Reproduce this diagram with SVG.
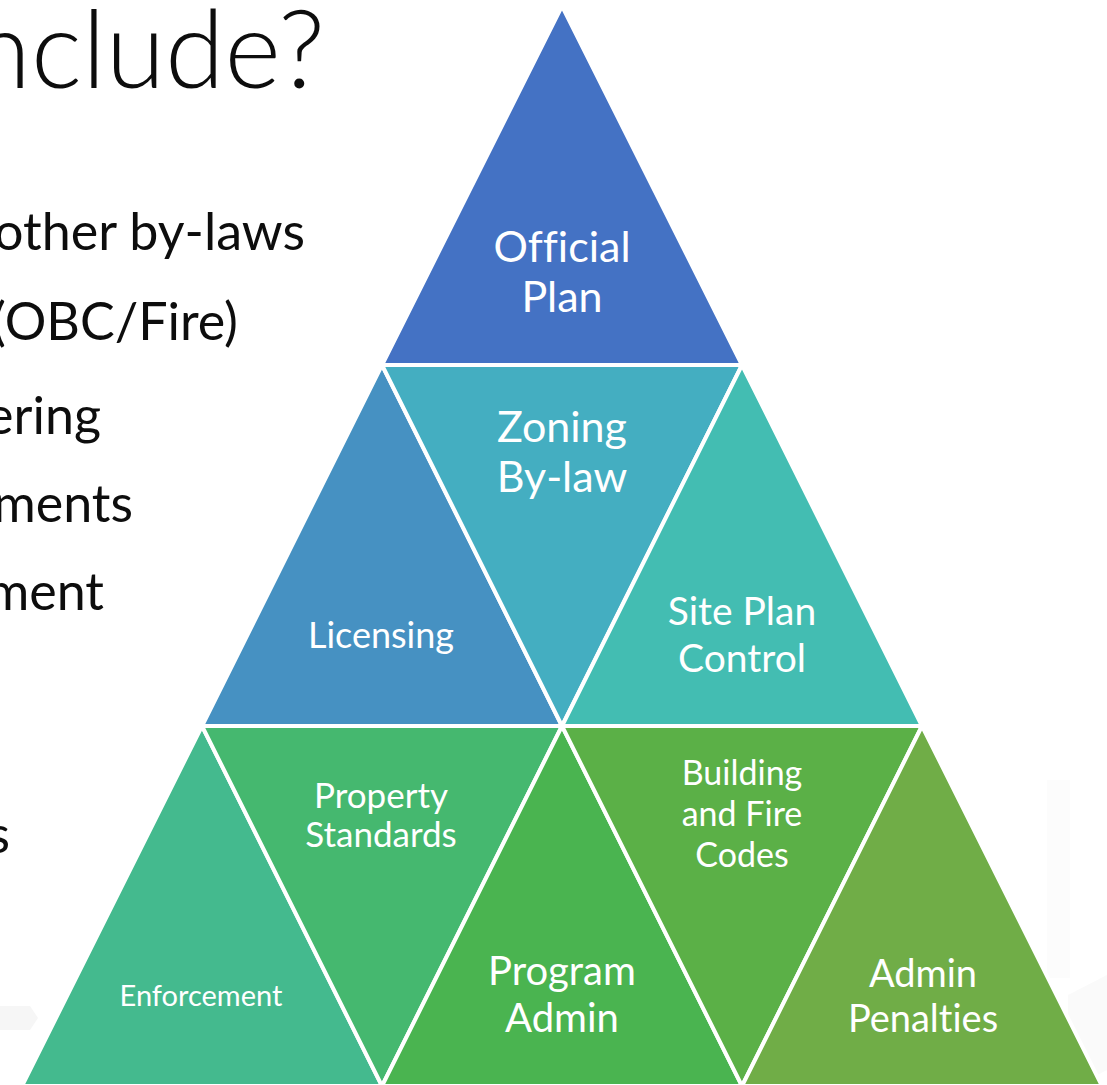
<svg xmlns="http://www.w3.org/2000/svg" width="1107" height="1085" viewBox="0 0 1107 1085">
  <style>
    text { font-variant-ligatures: none; }
    .tri { stroke: #ffffff; stroke-width: 4; stroke-linejoin: miter; }
    .lbl { fill: #ffffff; font-family: Lato, "Open Sans", "Liberation Sans", sans-serif; text-anchor: middle; }
    .body { fill: #0d0d0d; font-family: Lato, "Open Sans", "Liberation Sans", sans-serif; text-anchor: end; font-size: 52px; }
    .title { fill: #0d0d0d; font-family: Lato, "Open Sans", "Liberation Sans", sans-serif; font-weight: 300; text-anchor: end; font-size: 108px; }
  </style>
  <rect width="1107" height="1085" fill="#ffffff"/>

  <!-- faint background motif -->
  <g id="backdrop">
    <polygon points="0,1006 30,1006 38,1018 30,1030 0,1030" fill="#f6f6f6"/>
    <polygon points="1047,780 1070,780 1070,978 1047,978" fill="#fcfcfc"/>
    <polygon points="1068,995 1107,975 1107,1070 1078,1085 1068,1085" fill="#fafafa"/>
  </g>

  <!-- slide text, partly off the left edge -->
  <g id="slide-text">
    <text class="title" x="325" y="88">nclude?</text>
    <text class="body" x="305" y="250">other by-laws</text>
    <text class="body" x="238" y="340">(OBC/Fire)</text>
    <text class="body" x="101" y="434">ering</text>
    <text class="body" x="133" y="522">ments</text>
    <text class="body" x="104" y="610">ment</text>
    <text class="body" x="10" y="853">s</text>
  </g>

  <g id="connectors"/>

  <!-- row 1 -->
  <g id="official-plan">
    <polygon class="tri" fill="#4472C4" points="562,6 742,365 382,365"/>
    <text class="lbl" x="562" y="262" font-size="43">Official</text>
    <text class="lbl" x="562" y="312" font-size="43">Plan</text>
  </g>

  <!-- row 2 -->
  <g id="licensing">
    <polygon class="tri" fill="#4691C2" points="382,365 562,726 202,726"/>
    <text class="lbl" x="381" y="648" font-size="36">Licensing</text>
  </g>
  <g id="zoning-bylaw">
    <polygon class="tri" fill="#44AEC1" points="382,365 742,365 562,726"/>
    <text class="lbl" x="562" y="442" font-size="43">Zoning</text>
    <text class="lbl" x="562" y="492" font-size="43">By-law</text>
  </g>
  <g id="site-plan-control">
    <polygon class="tri" fill="#43BDB2" points="742,365 922,726 562,726"/>
    <text class="lbl" x="742" y="625" font-size="39">Site Plan</text>
    <text class="lbl" x="742" y="672" font-size="39">Control</text>
  </g>

  <!-- row 3 -->
  <g id="enforcement">
    <polygon class="tri" fill="#44BA8E" points="202,726 382,1086 22,1086"/>
    <text class="lbl" x="201" y="1006" font-size="29">Enforcement</text>
  </g>
  <g id="property-standards">
    <polygon class="tri" fill="#45B86F" points="202,726 562,726 382,1086"/>
    <text class="lbl" x="381" y="808" font-size="35">Property</text>
    <text class="lbl" x="381" y="847" font-size="35">Standards</text>
  </g>
  <g id="program-admin">
    <polygon class="tri" fill="#4AB450" points="562,726 742,1086 382,1086"/>
    <text class="lbl" x="562" y="985" font-size="40">Program</text>
    <text class="lbl" x="562" y="1032" font-size="40">Admin</text>
  </g>
  <g id="building-fire-codes">
    <polygon class="tri" fill="#5BB047" points="562,726 922,726 742,1086"/>
    <text class="lbl" x="742" y="785" font-size="34">Building</text>
    <text class="lbl" x="742" y="826" font-size="34">and Fire</text>
    <text class="lbl" x="742" y="867" font-size="34">Codes</text>
  </g>
  <g id="admin-penalties">
    <polygon class="tri" fill="#70AD47" points="922,726 1102,1086 742,1086"/>
    <text class="lbl" x="923" y="987" font-size="38">Admin</text>
    <text class="lbl" x="923" y="1032" font-size="38">Penalties</text>
  </g>
</svg>
